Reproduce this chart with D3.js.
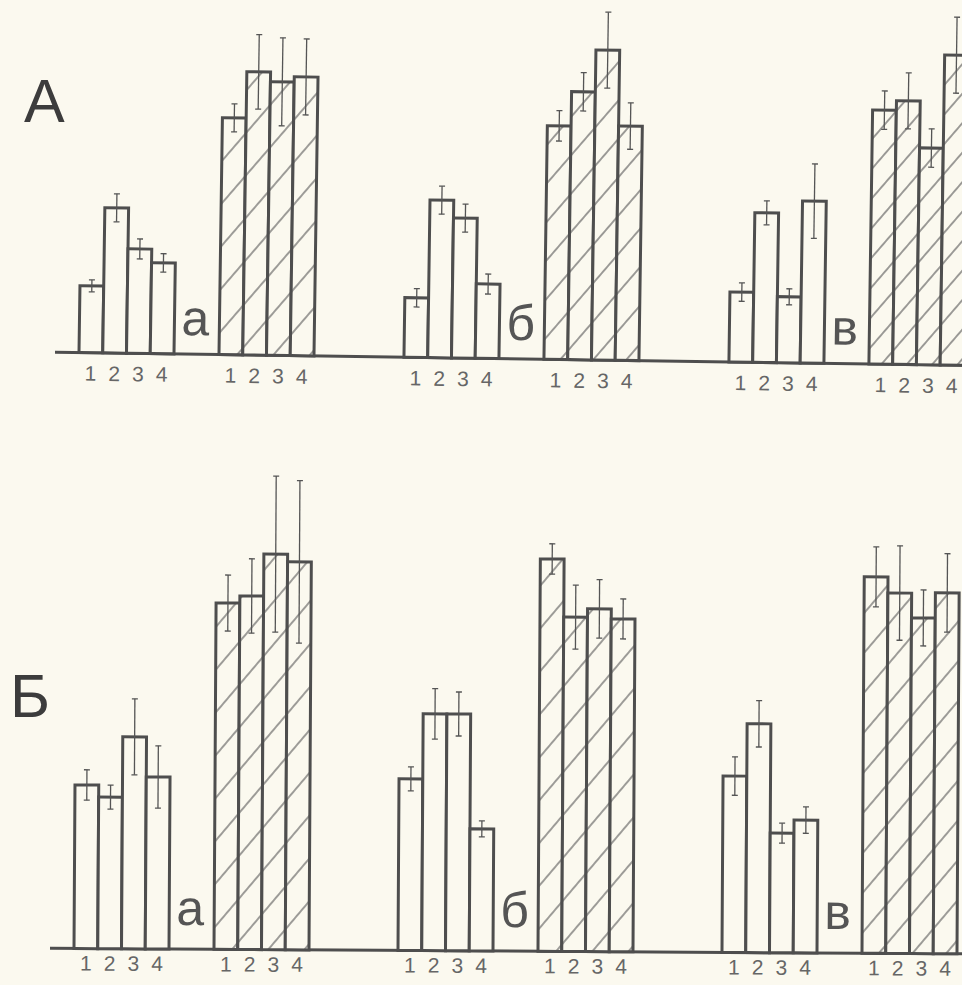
<!DOCTYPE html>
<html>
<head>
<meta charset="utf-8">
<script src="https://cdn.jsdelivr.net/npm/d3@7"></script>
<style>
  html, body { margin: 0; padding: 0; background: #fbf9ef; }
  svg { display: block; }
  text { font-family: "Liberation Sans", Arial, sans-serif; }
</style>
</head>
<body>
<svg id="chart" width="962" height="985"></svg>
<script>
// ---- data ----
const barLabels = ["1", "2", "3", "4"];
const groupLabels = ["а", "б", "в"];
const setKeys = ["open", "hatched"];

// Panel А: mean values (arbitrary units) and errors, one row per group а, б, в
const panelA_open       = [[16.7, 36.3, 26.1, 22.7], [14.9, 39.4, 35.0, 18.6], [17.5, 37.4, 16.5, 40.5]];
const panelA_openErr    = [[1.5, 3.5, 2.5, 2.3], [2.3, 3.5, 3.5, 2.5], [2.3, 3.0, 2.0, 9.3]];
const panelA_hatched    = [[59.2, 70.8, 68.4, 69.7], [58.4, 67.0, 77.5, 58.6], [63.5, 65.9, 54.2, 77.5]];
const panelA_hatchedErr = [[3.5, 9.3, 11.0, 9.5], [3.8, 4.8, 9.5, 5.8], [4.8, 7.0, 4.8, 9.5]];

// Panel Б
const panelB_open       = [[40.9, 37.9, 53.0, 43.0], [42.9, 59.2, 59.2, 30.5], [44.1, 57.2, 29.9, 33.2]];
const panelB_openErr    = [[3.8, 3.0, 9.5, 7.8], [3.0, 6.3, 5.5, 2.0], [4.8, 5.8, 2.5, 3.3]];
const panelB_hatched    = [[86.6, 88.4, 98.9, 97.0], [98.1, 83.6, 85.7, 83.2], [94.1, 90.1, 83.9, 90.2]];
const panelB_hatchedErr = [[7.0, 9.3, 19.5, 20.3], [3.8, 8.0, 7.3, 5.0], [7.5, 11.8, 7.0, 9.8]];

// ---- layout / style ----
const BG = "#fbf9ef";
const INK = "#4e4e4e";
const panels = [
  { name: "А", open: panelA_open, openErr: panelA_openErr, hatched: panelA_hatched, hatchedErr: panelA_hatchedErr,
    origin: [79, 352.5], slope: 0.0145, groupStep: 325, title: [24, 122],
    tickDy: 28, groupLabelDy: 19, hatchGap: [43, 39, 30] },
  { name: "Б", open: panelB_open, openErr: panelB_openErr, hatched: panelB_hatched, hatchedErr: panelB_hatchedErr,
    origin: [74, 948.5], slope: 0.006, groupStep: 324, title: [10, 717],
    tickDy: 22, groupLabelDy: 24, hatchGap: [43, 43, 40] }
];

const svg = d3.select("#chart");
svg.append("rect").attr("width", 962).attr("height", 985).attr("fill", BG);
const defs = svg.append("defs");

const y = d3.scaleLinear().domain([0, 100]).range([0, -400]);
const barX = d3.scaleBand().domain(barLabels).range([0, 95]);
const setX = d3.scaleBand().domain(setKeys).range([0, 280]);

// hatch pattern: "/" lines at ~50 degrees, vertical gap g
function hatchId(g) {
  const id = "hatch" + g;
  if (defs.select("#" + id).empty()) {
    const p = g * Math.cos(50 * Math.PI / 180);
    const pat = defs.append("pattern").attr("id", id)
      .attr("patternUnits", "userSpaceOnUse")
      .attr("width", p).attr("height", p)
      .attr("patternTransform", "rotate(40)");
    pat.append("rect").attr("width", p).attr("height", p).attr("fill", BG);
    pat.append("line").attr("x1", p / 2).attr("x2", p / 2).attr("y1", -1).attr("y2", p + 1)
      .attr("stroke", "#5f5f5f").attr("stroke-width", 1.2);
  }
  return "url(#" + id + ")";
}

panels.forEach(P => {
  const groupX = d3.scaleBand().domain(groupLabels).range([0, P.groupStep * 3]);
  const angle = Math.atan(P.slope) * 180 / Math.PI;
  const g = svg.append("g")
    .attr("transform", `translate(${P.origin[0]},${P.origin[1]}) rotate(${angle})`);

  // panel title
  svg.append("text").attr("x", P.title[0]).attr("y", P.title[1])
    .attr("font-size", 61).attr("fill", "#3c3c3c").text(P.name);

  // baseline
  g.append("line").attr("x1", -24).attr("x2", 962 - P.origin[0] + 10)
    .attr("y1", 0).attr("y2", 0).attr("stroke", INK).attr("stroke-width", 3);

  groupLabels.forEach((gl, gi) => {
    const gg = g.append("g").attr("transform", `translate(${groupX(gl)},0)`);
    setKeys.forEach(key => {
      const vals = P[key][gi];
      const errs = P[key + "Err"][gi];
      const data = barLabels.map((b, i) => ({ b, v: vals[i], e: errs[i] }));
      const sg = gg.append("g").attr("transform", `translate(${setX(key)},0)`);
      const fill = key === "open" ? BG : hatchId(P.hatchGap[gi]);

      sg.selectAll("rect.bar").data(data).join("rect").attr("class", "bar")
        .attr("x", d => barX(d.b)).attr("width", barX.bandwidth())
        .attr("y", d => y(d.v)).attr("height", d => y(0) - y(d.v))
        .attr("fill", fill).attr("stroke", INK).attr("stroke-width", 3)
        .attr("stroke-linejoin", "miter");

      const eb = sg.selectAll("g.err").data(data).join("g").attr("class", "err")
        .attr("transform", d => `translate(${barX(d.b) + barX.bandwidth() / 2},0)`)
        .attr("stroke", "#555").attr("stroke-width", 1.3);
      eb.append("line").attr("y1", d => y(d.v - d.e)).attr("y2", d => y(d.v + d.e));
      eb.append("line").attr("x1", -3).attr("x2", 3).attr("y1", d => y(d.v + d.e)).attr("y2", d => y(d.v + d.e));
      eb.append("line").attr("x1", -3).attr("x2", 3).attr("y1", d => y(d.v - d.e)).attr("y2", d => y(d.v - d.e));

      sg.selectAll("text.tick").data(data).join("text").attr("class", "tick")
        .attr("x", d => barX(d.b) + barX.bandwidth() / 2).attr("y", P.tickDy)
        .attr("text-anchor", "middle").attr("font-size", 21).attr("fill", "#666")
        .text(d => d.b);
    });

    gg.append("text").attr("x", 102).attr("y", -P.groupLabelDy)
      .attr("font-size", 50).attr("fill", "#555").text(gl);
  });
});
</script>
</body>
</html>
